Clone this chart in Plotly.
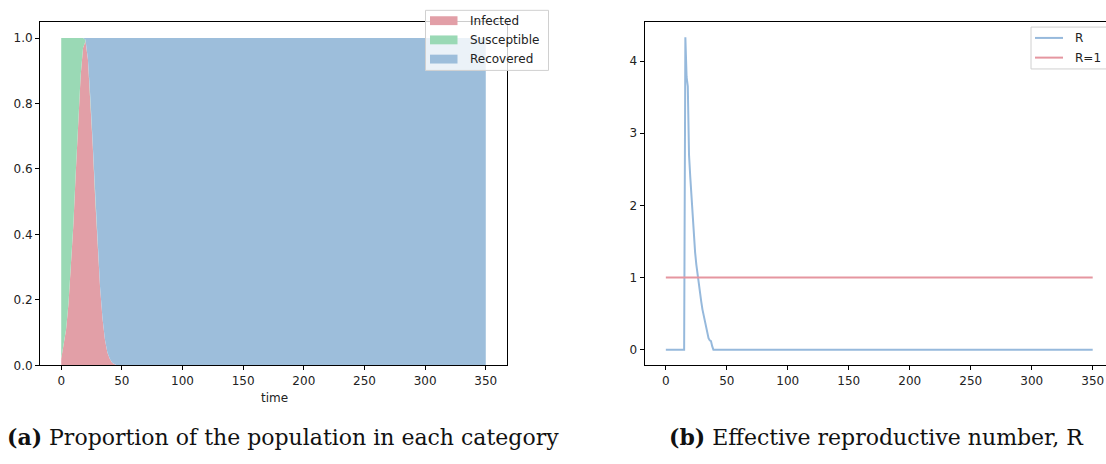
import plotly.graph_objects as go

# ---- SIR proportions (stacked) ----
time_sir = [0, 2, 4, 6, 8, 10, 12, 14, 16, 18, 20, 22, 24, 26, 28, 30, 32, 34, 36, 38, 40, 42, 44, 46, 350]
infected = [0.02, 0.06, 0.11, 0.19, 0.30, 0.43, 0.59, 0.75, 0.885, 0.97, 0.99, 0.935, 0.82, 0.67, 0.51,
            0.36, 0.24, 0.145, 0.08, 0.04, 0.02, 0.008, 0.003, 0.0, 0.0]
susceptible = [0.98, 0.94, 0.89, 0.81, 0.70, 0.57, 0.41, 0.25, 0.115, 0.03, 0.005, 0.0, 0.0, 0.0, 0.0,
               0.0, 0.0, 0.0, 0.0, 0.0, 0.0, 0.0, 0.0, 0.0, 0.0]
recovered = [0.0, 0.0, 0.0, 0.0, 0.0, 0.0, 0.0, 0.0, 0.0, 0.0, 0.005, 0.065, 0.18, 0.33, 0.49,
             0.64, 0.76, 0.855, 0.92, 0.96, 0.98, 0.992, 0.997, 1.0, 1.0]

# ---- effective reproductive number ----
time_r = [0, 15, 16, 17, 18, 19, 20, 21, 22, 23, 24, 25, 26, 27, 28, 29, 30, 31, 32, 33, 34, 35, 36,
          37, 38, 39, 350]
r_eff = [0.0, 0.0, 4.33, 3.78, 3.65, 2.7, 2.4, 2.1, 1.8, 1.55, 1.35, 1.18, 1.03, 0.9, 0.78, 0.67, 0.56,
         0.47, 0.38, 0.3, 0.22, 0.16, 0.13, 0.12, 0.05, 0.0, 0.0]
r_one_t = [0, 350]
r_one = [1, 1]

x_ticks = [0, 50, 100, 150, 200, 250, 300, 350]
y_ticks_left = [0.0, 0.2, 0.4, 0.6, 0.8, 1.0]
y_ticks_right = [0, 1, 2, 3, 4]

RED = "#E29FA7"
GREEN = "#9AD9B5"
BLUE = "#9DBEDB"
LINE_BLUE = "#96B9DC"
LINE_RED = "#E596A0"
TXT = "#222222"

W, H = 1106, 464
SANS = "DejaVu Sans"
FS = 12


def px(x):
    return x / W


def py(y):
    return 1 - y / H


fig = go.Figure()

for name, vals, col in [("Infected", infected, RED),
                        ("Susceptible", susceptible, GREEN),
                        ("Recovered", recovered, BLUE)]:
    fig.add_trace(go.Scatter(x=time_sir, y=vals, name=name, mode="lines",
                             stackgroup="sir", line=dict(width=0, color=col),
                             fillcolor=col, xaxis="x", yaxis="y", showlegend=False))

fig.add_trace(go.Scatter(x=time_r, y=r_eff, name="R", mode="lines",
                         line=dict(color=LINE_BLUE, width=2), xaxis="x2", yaxis="y2",
                         showlegend=False))
fig.add_trace(go.Scatter(x=r_one_t, y=r_one, name="R=1", mode="lines",
                         line=dict(color=LINE_RED, width=2), xaxis="x2", yaxis="y2",
                         showlegend=False))

tickfont = dict(family=SANS, size=FS, color=TXT)
axis_common = dict(showgrid=False, zeroline=False, showline=True, linecolor="black", linewidth=1,
                   ticks="outside", ticklen=4, tickwidth=1, tickcolor="black", tickfont=tickfont)

ydom = [py(371), py(22)]

fig.update_layout(
    width=W, height=H,
    margin=dict(l=0, r=0, t=0, b=0),
    paper_bgcolor="white", plot_bgcolor="white",
    xaxis=dict(domain=[px(40), px(507)], range=[-17.5, 367.5], tickvals=x_ticks,
               mirror=True, anchor="y", **axis_common),
    yaxis=dict(domain=ydom, range=[0, 1.05], tickvals=y_ticks_left, tickformat=".1f",
               mirror=True, anchor="x", **axis_common),
    xaxis2=dict(domain=[px(644.5), 1.0], range=[-17.5, 360.9], tickvals=x_ticks,
                mirror=True, anchor="y2", **axis_common),
    yaxis2=dict(domain=ydom, range=[-0.2165, 4.5465], tickvals=y_ticks_right,
                anchor="x2", **axis_common),
    showlegend=False,
)

shapes = []
annotations = []

# legend for the stacked areas
shapes.append(dict(type="rect", xref="paper", yref="paper", layer="above",
                   x0=px(425.5), x1=px(548.5), y0=py(71.5), y1=py(10.5),
                   fillcolor="rgba(255,255,255,0.8)", line=dict(color="#d0d0d0", width=1)))
for i, (label, col) in enumerate([("Infected", RED), ("Susceptible", GREEN), ("Recovered", BLUE)]):
    yc = 21 + i * 19.5
    shapes.append(dict(type="rect", xref="paper", yref="paper", layer="above",
                       x0=px(430), x1=px(457.5), y0=py(yc + 4.5), y1=py(yc - 4.5),
                       fillcolor=col, line=dict(width=0)))
    annotations.append(dict(text=label, xref="paper", yref="paper", x=px(467.5), y=py(yc),
                            xanchor="left", yanchor="middle", showarrow=False,
                            font=dict(family=SANS, size=FS, color=TXT)))

# legend for the R plot
shapes.append(dict(type="rect", xref="paper", yref="paper", layer="above",
                   x0=px(1031), x1=px(1110), y0=py(70), y1=py(27.5),
                   fillcolor="rgba(255,255,255,0.8)", line=dict(color="#d0d0d0", width=1)))
for i, (label, col) in enumerate([("R", LINE_BLUE), ("R=1", LINE_RED)]):
    yc = 38.5 + i * 20
    shapes.append(dict(type="line", xref="paper", yref="paper", layer="above",
                       x0=px(1035), x1=px(1063), y0=py(yc), y1=py(yc),
                       line=dict(color=col, width=2)))
    annotations.append(dict(text=label, xref="paper", yref="paper", x=px(1073), y=py(yc),
                            xanchor="left", yanchor="middle", showarrow=False,
                            font=dict(family=SANS, size=FS, color=TXT)))

# axis title and sub-figure captions
annotations.append(dict(text="time", xref="paper", yref="paper", x=px(274), y=py(404),
                        xanchor="center", yanchor="middle", showarrow=False,
                        font=dict(family=SANS, size=FS, color=TXT)))
annotations.append(dict(text="<b>(a)</b> Proportion of the population in each category",
                        xref="paper", yref="paper", x=px(283), y=py(444),
                        xanchor="center", yanchor="middle", showarrow=False,
                        font=dict(family="DejaVu Serif", size=22, color="#111111")))
annotations.append(dict(text="<b>(b)</b> Effective reproductive number, R",
                        xref="paper", yref="paper", x=px(876), y=py(444),
                        xanchor="center", yanchor="middle", showarrow=False,
                        font=dict(family="DejaVu Serif", size=22, color="#111111")))

fig.update_layout(shapes=shapes, annotations=annotations)

fig.write_html("out.html")
